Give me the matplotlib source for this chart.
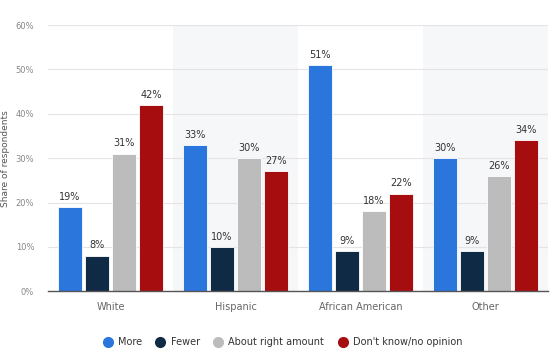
import numpy as np
import matplotlib.pyplot as plt
from matplotlib.lines import Line2D

groups = ["White", "Hispanic", "African American", "Other"]
series = ["More", "Fewer", "About right amount", "Don't know/no opinion"]
more = [19, 33, 51, 30]
fewer = [8, 10, 9, 9]
about_right = [31, 30, 18, 26]
dont_know = [42, 27, 22, 34]
colors = ["#2a76dd", "#0f2a44", "#bcbcbc", "#a50d0e"]

values = [more, fewer, about_right, dont_know]

fig = plt.figure(figsize=(5.58, 3.64), dpi=100)
ax = fig.add_axes([0.086, 0.2, 0.896, 0.731])

x = np.arange(len(groups))
step = 0.216
width = 0.194

# alternating shaded background bands
for i in range(len(groups)):
    if i % 2 == 1:
        ax.axvspan(i - 0.5, i + 0.5, color="#f6f7f9", zorder=0, lw=0)

for j, (vals, col) in enumerate(zip(values, colors)):
    pos = x + (j - 1.5) * step
    bars = ax.bar(pos, vals, width=width, color=col, edgecolor="white",
                  linewidth=0.6, zorder=3)
    for b, v in zip(bars, vals):
        ax.text(b.get_x() + b.get_width() / 2, v + 1.2, f"{v}%",
                ha="center", va="bottom", fontsize=7, color="#333333", zorder=4)

ax.set_xlim(-0.5, len(groups) - 0.5)
ax.set_ylim(0, 60)
ax.set_yticks(range(0, 61, 10))
ax.set_yticklabels([f"{t}%" for t in range(0, 61, 10)])
ax.set_xticks(x)
ax.set_xticklabels(groups)
ax.tick_params(axis="y", length=0, labelsize=6, labelcolor="#888888", pad=10)
ax.tick_params(axis="x", length=0, labelsize=7, labelcolor="#666666", pad=8)
ax.grid(axis="y", color="#e4e4e4", linewidth=0.8, zorder=1)
ax.set_axisbelow(True)
for s in ["top", "right", "left"]:
    ax.spines[s].set_visible(False)
ax.spines["bottom"].set_color("#555555")
ax.spines["bottom"].set_linewidth(1.0)
ax.spines["bottom"].set_zorder(5)
ax.set_ylabel("Share of respondents", fontsize=6.5, color="#555555", labelpad=4)

handles = [Line2D([], [], marker="o", linestyle="", markersize=7,
                  markerfacecolor=c, markeredgecolor=c) for c in colors]
fig.legend(handles, series, loc="center", bbox_to_anchor=(0.502, 0.06), ncol=4,
           frameon=False, fontsize=7, handletextpad=0.05, columnspacing=0.9,
           labelcolor="#333333")

fig.savefig("out.png", dpi=100)
